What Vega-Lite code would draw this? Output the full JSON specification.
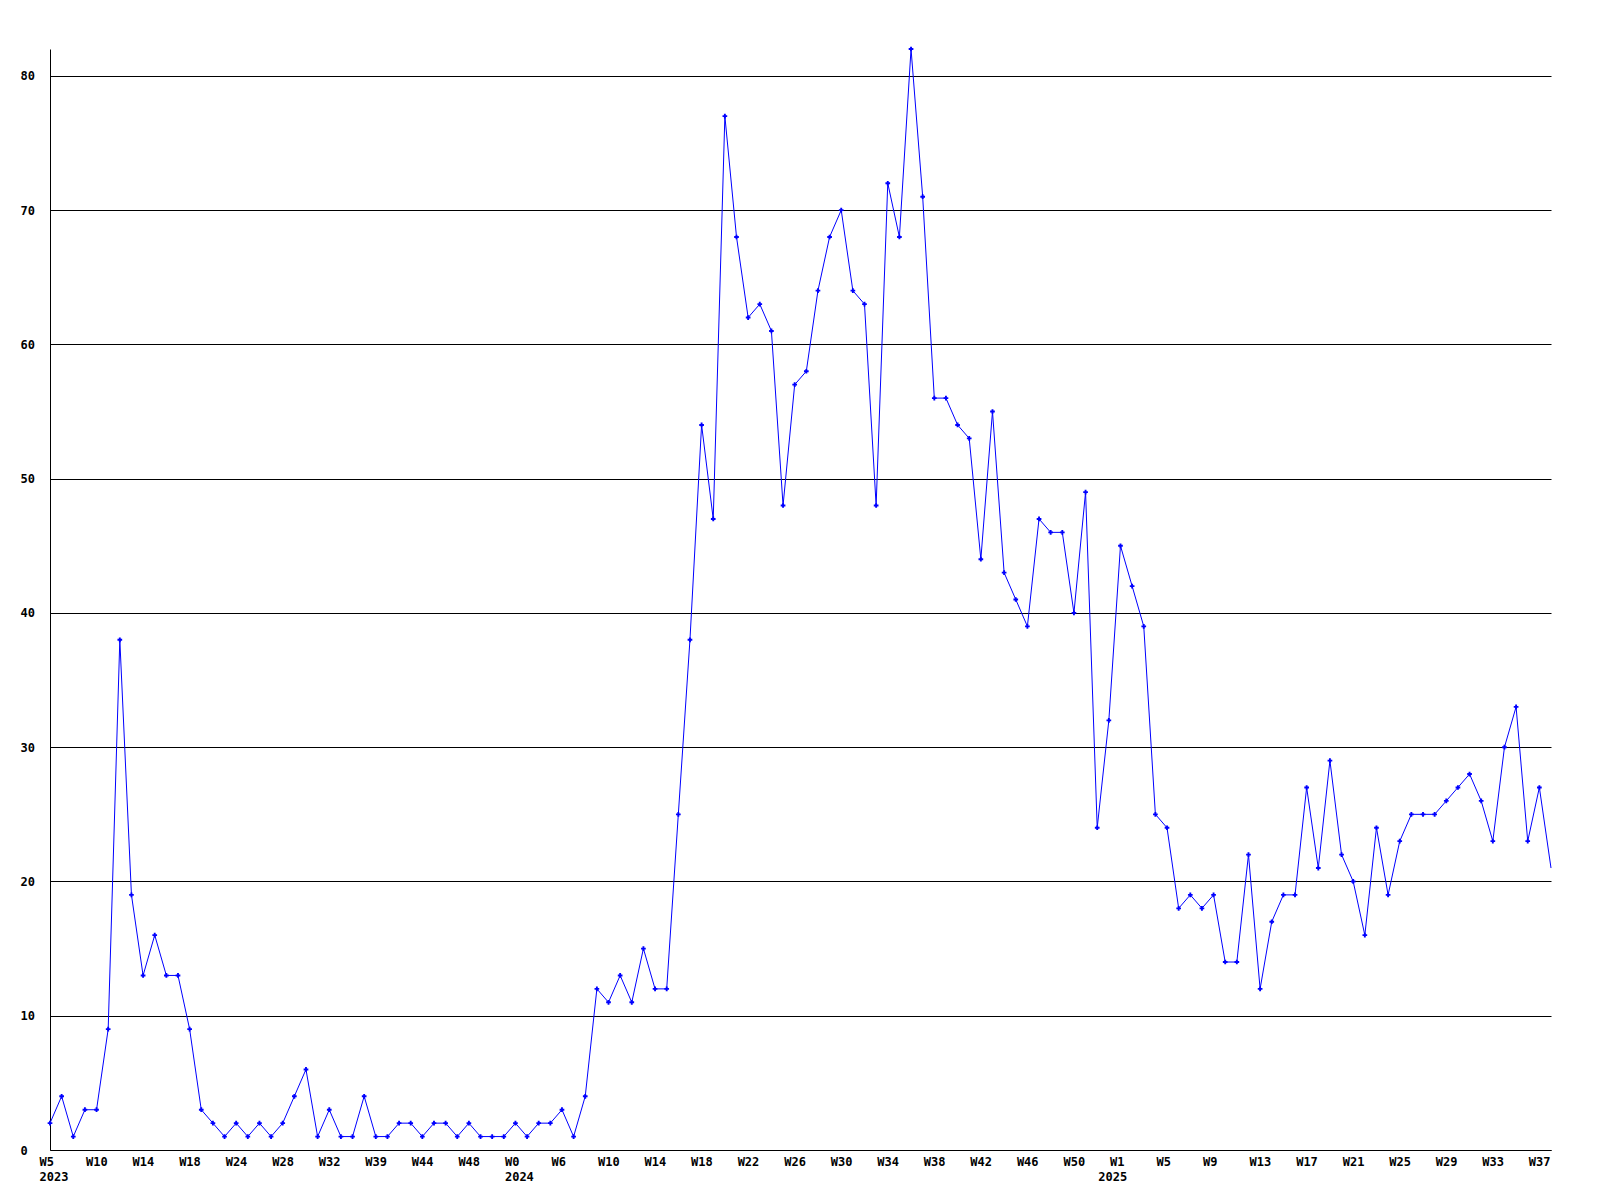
{
  "$schema": "https://vega.github.io/schema/vega-lite/v6.json",
  "width": 1501,
  "height": 1101,
  "autosize": {"type": "none"},
  "padding": {"left": 50, "top": 49, "right": 49, "bottom": 50},
  "background": "white",
  "config": {"view": {"stroke": null}},
  "data": {"values": [
    {"i":0,"v":2},{"i":1,"v":4},{"i":2,"v":1},{"i":3,"v":3},{"i":4,"v":3},{"i":5,"v":9},{"i":6,"v":38},{"i":7,"v":19},{"i":8,"v":13},{"i":9,"v":16},
    {"i":10,"v":13},{"i":11,"v":13},{"i":12,"v":9},{"i":13,"v":3},{"i":14,"v":2},{"i":15,"v":1},{"i":16,"v":2},{"i":17,"v":1},{"i":18,"v":2},{"i":19,"v":1},
    {"i":20,"v":2},{"i":21,"v":4},{"i":22,"v":6},{"i":23,"v":1},{"i":24,"v":3},{"i":25,"v":1},{"i":26,"v":1},{"i":27,"v":4},{"i":28,"v":1},{"i":29,"v":1},
    {"i":30,"v":2},{"i":31,"v":2},{"i":32,"v":1},{"i":33,"v":2},{"i":34,"v":2},{"i":35,"v":1},{"i":36,"v":2},{"i":37,"v":1},{"i":38,"v":1},{"i":39,"v":1},
    {"i":40,"v":2},{"i":41,"v":1},{"i":42,"v":2},{"i":43,"v":2},{"i":44,"v":3},{"i":45,"v":1},{"i":46,"v":4},{"i":47,"v":12},{"i":48,"v":11},{"i":49,"v":13},
    {"i":50,"v":11},{"i":51,"v":15},{"i":52,"v":12},{"i":53,"v":12},{"i":54,"v":25},{"i":55,"v":38},{"i":56,"v":54},{"i":57,"v":47},{"i":58,"v":77},{"i":59,"v":68},
    {"i":60,"v":62},{"i":61,"v":63},{"i":62,"v":61},{"i":63,"v":48},{"i":64,"v":57},{"i":65,"v":58},{"i":66,"v":64},{"i":67,"v":68},{"i":68,"v":70},{"i":69,"v":64},
    {"i":70,"v":63},{"i":71,"v":48},{"i":72,"v":72},{"i":73,"v":68},{"i":74,"v":82},{"i":75,"v":71},{"i":76,"v":56},{"i":77,"v":56},{"i":78,"v":54},{"i":79,"v":53},
    {"i":80,"v":44},{"i":81,"v":55},{"i":82,"v":43},{"i":83,"v":41},{"i":84,"v":39},{"i":85,"v":47},{"i":86,"v":46},{"i":87,"v":46},{"i":88,"v":40},{"i":89,"v":49},
    {"i":90,"v":24},{"i":91,"v":32},{"i":92,"v":45},{"i":93,"v":42},{"i":94,"v":39},{"i":95,"v":25},{"i":96,"v":24},{"i":97,"v":18},{"i":98,"v":19},{"i":99,"v":18},
    {"i":100,"v":19},{"i":101,"v":14},{"i":102,"v":14},{"i":103,"v":22},{"i":104,"v":12},{"i":105,"v":17},{"i":106,"v":19},{"i":107,"v":19},{"i":108,"v":27},{"i":109,"v":21},
    {"i":110,"v":29},{"i":111,"v":22},{"i":112,"v":20},{"i":113,"v":16},{"i":114,"v":24},{"i":115,"v":19},{"i":116,"v":23},{"i":117,"v":25},{"i":118,"v":25},{"i":119,"v":25},
    {"i":120,"v":26},{"i":121,"v":27},{"i":122,"v":28},{"i":123,"v":26},{"i":124,"v":23},{"i":125,"v":30},{"i":126,"v":33},{"i":127,"v":23},{"i":128,"v":27},{"i":129,"v":21}
  ]},
  "encoding": {
    "x": {
      "field": "i",
      "type": "quantitative",
      "scale": {"domain": [0, 129], "nice": false, "zero": false},
      "axis": {
        "title": null,
        "values": [0,4,8,12,16,20,24,28,32,36,40,44,48,52,56,60,64,68,72,76,80,84,88,91,92,96,100,104,108,112,116,120,124,128],
        "labelExpr": "datum.value == 0 ? ['W5','2023'] : datum.value == 40 ? ['W0','2024'] : datum.value == 91 ? [' ','2025'] : ['W5','W10','W14','W18','W24','W28','W32','W39','W44','W48','W0','W6','W10','W14','W18','W22','W26','W30','W34','W38','W42','W46','W50','W1','W5','W9','W13','W17','W21','W25','W29','W33','W37'][datum.value / 4]",
        "grid": false,
        "ticks": false,
        "domainColor": "black",
        "domainWidth": 1,
        "labelAlign": "left",
        "labelOffset": -11,
        "labelPadding": 6,
        "labelBaseline": "top",
        "labelFont": "DejaVu Sans Mono",
        "labelFontSize": 12,
        "labelFontWeight": "bold",
        "labelColor": "black",
        "labelLineHeight": 15,
        "labelOverlap": false,
        "labelBound": false,
        "labelFlush": false
      }
    },
    "y": {
      "field": "v",
      "type": "quantitative",
      "scale": {"domain": [0, 82], "nice": false},
      "axis": {
        "title": null,
        "values": [0,10,20,30,40,50,60,70,80],
        "grid": true,
        "gridColor": "black",
        "gridOpacity": 1,
        "gridWidth": 1,
        "ticks": false,
        "domainColor": "black",
        "domainWidth": 1,
        "labelAlign": "left",
        "labelPadding": 30,
        "labelBaseline": "middle",
        "labelFont": "DejaVu Sans Mono",
        "labelFontSize": 12,
        "labelFontWeight": "bold",
        "labelColor": "black",
        "labelOverlap": false,
        "labelFlush": false,
        "labelBound": false
      }
    }
  },
  "layer": [
    {"mark": {"type": "line", "color": "#0000ff", "strokeWidth": 1}},
    {
      "transform": [{"filter": "datum.i < 129"}],
      "mark": {"type": "point", "shape": "cross", "filled": true, "color": "#0000ff", "size": 22, "opacity": 1}
    }
  ]
}
